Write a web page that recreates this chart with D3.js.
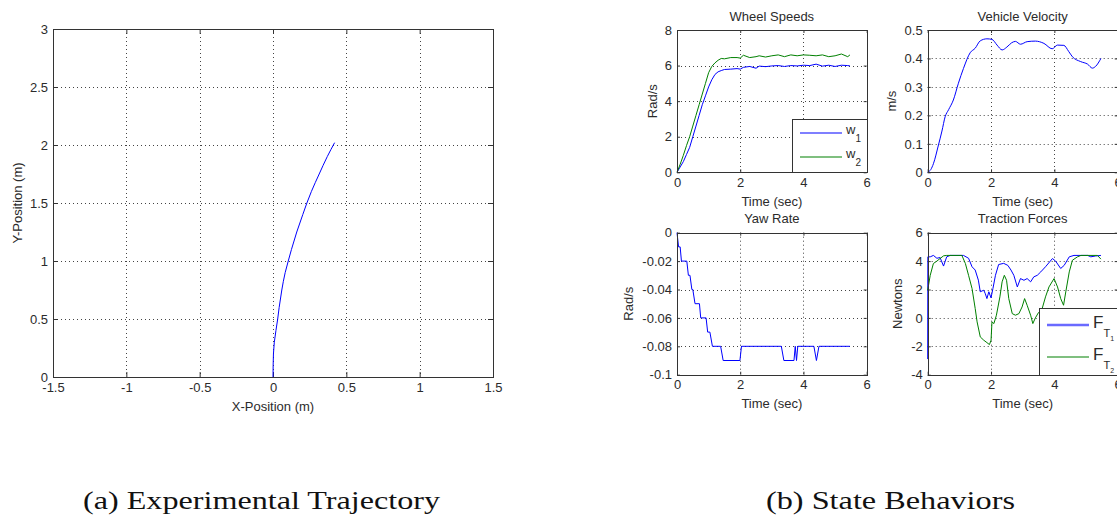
<!DOCTYPE html>
<html>
<head>
<meta charset="utf-8">
<script src="https://cdn.jsdelivr.net/npm/d3@7"></script>
<style>
  body { margin: 0; background: #fff; }
  svg { display: block; font-family: "Liberation Sans", Arial, sans-serif; }
</style>
</head>
<body>
<div id="chart"></div>
<script>
// ---- data ----
// (a) trajectory
const trajX = [0, 0.001, 0.003, 0.009, 0.02, 0.032, 0.042, 0.06, 0.083, 0.104, 0.126, 0.162, 0.203, 0.231, 0.262, 0.315, 0.37, 0.42];
const trajY = [0, 0.1, 0.2, 0.3, 0.4, 0.5, 0.6, 0.75, 0.9, 1.0, 1.1, 1.25, 1.4, 1.5, 1.6, 1.75, 1.9, 2.02];
const trajXTicks = [-1.5, -1, -0.5, 0, 0.5, 1, 1.5];
const trajYTicks = [0, 0.5, 1, 1.5, 2, 2.5, 3];

// wheel speeds
const wsTime = [0, 0.1, 0.2, 0.3, 0.4, 0.5, 0.6, 0.7, 0.8, 0.9, 1.0, 1.1, 1.2, 1.3, 1.4, 1.5, 1.7, 1.9, 2.0, 2.1, 2.3, 2.5, 2.6, 2.8, 3.0, 3.2, 3.4, 3.6, 3.8, 4.0, 4.2, 4.4, 4.6, 4.8, 5.0, 5.2, 5.4, 5.47];
const w1 = [0, 0.3, 0.6, 1.0, 1.4, 2.0, 2.6, 3.2, 3.8, 4.3, 4.8, 5.2, 5.5, 5.65, 5.72, 5.78, 5.8, 5.83, 5.8, 5.9, 5.95, 5.85, 5.97, 5.94, 5.98, 6.0, 5.95, 6.0, 5.98, 6.02, 6.0, 6.08, 5.97, 6.02, 5.95, 6.02, 6.0, 5.98];
const w2 = [0, 0.45, 0.95, 1.5, 2.0, 2.6, 3.2, 3.8, 4.4, 5.0, 5.6, 5.95, 6.15, 6.3, 6.4, 6.38, 6.45, 6.45, 6.42, 6.58, 6.45, 6.5, 6.55, 6.48, 6.55, 6.6, 6.5, 6.6, 6.55, 6.6, 6.58, 6.55, 6.6, 6.5, 6.55, 6.65, 6.5, 6.6];

// vehicle velocity
const vvTime = [0, 0.1, 0.18, 0.34, 0.45, 0.55, 0.66, 0.81, 0.97, 1.13, 1.34, 1.5, 1.66, 1.87, 2.03, 2.19, 2.35, 2.5, 2.65, 2.77, 2.93, 3.14, 3.4, 3.67, 3.93, 4.1, 4.3, 4.45, 4.57, 4.83, 5.05, 5.2, 5.3, 5.47];
const vv = [0, 0.01, 0.03, 0.096, 0.145, 0.195, 0.22, 0.254, 0.313, 0.365, 0.42, 0.436, 0.462, 0.469, 0.467, 0.447, 0.43, 0.44, 0.455, 0.46, 0.45, 0.459, 0.461, 0.453, 0.434, 0.447, 0.446, 0.425, 0.406, 0.389, 0.38, 0.366, 0.372, 0.40];

// yaw rate
const yawTime = [0, 0.05, 0.1, 0.14, 0.31, 0.36, 0.41, 0.47, 0.5, 0.57, 0.71, 0.75, 0.92, 0.97, 1.04, 1.12, 1.38, 1.46, 1.99, 2.04, 3.3, 3.38, 3.7, 3.74, 3.78, 3.82, 4.33, 4.41, 4.49, 5.47];
const yaw = [0, -0.01, -0.01, -0.02, -0.02, -0.03, -0.03, -0.04, -0.04, -0.05, -0.05, -0.06, -0.06, -0.07, -0.07, -0.08, -0.08, -0.09, -0.09, -0.08, -0.08, -0.09, -0.09, -0.08, -0.09, -0.08, -0.08, -0.09, -0.08, -0.08];

// traction forces
const f1Time = [0, 0.005, 0.02, 0.08, 0.18, 0.29, 0.39, 0.5, 0.6, 0.71, 1.13, 1.29, 1.4, 1.5, 1.6, 1.66, 1.77, 1.82, 1.87, 1.93, 2.0, 2.06, 2.14, 2.24, 2.4, 2.53, 2.63, 2.72, 2.83, 2.93, 3.04, 3.14, 3.25, 3.35, 3.46, 3.57, 3.72, 3.94, 4.04, 4.2, 4.31, 4.47, 4.62, 5.05, 5.15, 5.3, 5.47];
const f1 = [-2.9, 4.3, 4.3, 4.3, 4.4, 4.2, 4.25, 3.65, 4.3, 4.4, 4.4, 4.2, 3.6, 3.37, 2.66, 1.84, 1.95, 1.7, 1.36, 1.84, 1.41, 2.07, 3.0, 3.76, 3.84, 3.7, 3.37, 3.0, 2.18, 2.77, 2.65, 2.77, 2.54, 2.89, 3.0, 3.24, 3.6, 4.18, 4.0, 3.48, 3.7, 4.3, 4.4, 4.4, 4.3, 4.36, 4.4];
const f2Time = [0, 0.08, 0.18, 0.29, 0.39, 0.5, 0.6, 1.08, 1.19, 1.29, 1.4, 1.5, 1.56, 1.66, 1.77, 1.87, 1.95, 2.0, 2.03, 2.09, 2.17, 2.28, 2.35, 2.42, 2.49, 2.56, 2.67, 2.77, 2.88, 2.98, 3.06, 3.14, 3.25, 3.32, 3.4, 3.5, 3.6, 3.72, 3.83, 3.99, 4.1, 4.2, 4.29, 4.36, 4.47, 4.57, 4.73, 4.84, 5.36, 5.47];
const f2 = [1.95, 3.0, 3.83, 4.0, 4.18, 4.37, 4.4, 4.4, 3.83, 3.0, 2.07, 0.66, -0.28, -1.34, -1.57, -1.74, -1.88, -1.57, -0.28, -0.4, 0.19, 1.48, 2.54, 3.0, 2.65, 1.36, 0.3, 0.19, 0.3, 0.77, 1.36, 0.89, 0.19, -0.4, 0, 0.38, 0.54, 1.48, 2.18, 2.77, 2.18, 1.36, 0.89, 1.83, 3.24, 4.06, 4.3, 4.4, 4.4, 4.14];

const timeTicks = [0, 2, 4, 6];
const BLUE = "#0000ff", GREEN = "#008000";
const TXT = "#2b2b2b";

const svg = d3.select("#chart").append("svg")
  .attr("width", 1117).attr("height", 518);

// one MATLAB-style axes box
function drawPanel(o) {
  const x = d3.scaleLinear().domain(o.xDomain).range([o.left, o.right]);
  const y = d3.scaleLinear().domain(o.yDomain).range([o.bottom, o.top]);
  const g = svg.append("g");
  const fs = o.fontSize;

  // dotted grid
  const grid = g.append("g").attr("class", "grid");
  grid.append("g").selectAll("line").data(o.xTicks).join("line")
    .attr("x1", d => Math.round(x(d)) + 0.5).attr("x2", d => Math.round(x(d)) + 0.5)
    .attr("y1", o.top).attr("y2", o.bottom);
  grid.append("g").selectAll("line").data(o.yTicks).join("line")
    .attr("y1", d => Math.round(y(d)) + 0.5).attr("y2", d => Math.round(y(d)) + 0.5)
    .attr("x1", o.left).attr("x2", o.right);
  grid.selectAll("line").attr("stroke", "#444").attr("stroke-dasharray", "1,3");

  // inward ticks on all four sides
  const tl = o.tickLen;
  const ticks = [
    [d3.axisBottom(x).tickValues(o.xTicks), `translate(0,${o.bottom})`],
    [d3.axisTop(x).tickValues(o.xTicks), `translate(0,${o.top})`],
    [d3.axisLeft(y).tickValues(o.yTicks), `translate(${o.left},0)`],
    [d3.axisRight(y).tickValues(o.yTicks), `translate(${o.right},0)`]
  ];
  ticks.forEach(([ax, tr]) => {
    g.append("g").attr("transform", tr)
      .call(ax.tickSize(-tl).tickFormat(""))
      .call(s => s.select(".domain").remove())
      .selectAll("line").attr("stroke", "#333");
  });

  // tick labels
  g.append("g").attr("transform", `translate(0,${o.bottom})`)
    .call(d3.axisBottom(x).tickValues(o.xTicks).tickSize(0).tickPadding(o.xPad).tickFormat(d => String(d)))
    .call(s => s.select(".domain").remove())
    .selectAll("text").attr("font-size", fs).attr("fill", TXT)
    .attr("font-family", "Liberation Sans, Arial, sans-serif");
  g.append("g").attr("transform", `translate(${o.left},0)`)
    .call(d3.axisLeft(y).tickValues(o.yTicks).tickSize(0).tickPadding(5).tickFormat(d => String(d)))
    .call(s => s.select(".domain").remove())
    .selectAll("text").attr("font-size", fs).attr("fill", TXT)
    .attr("font-family", "Liberation Sans, Arial, sans-serif");

  // data lines
  const line = d3.line().x(d => x(d[0])).y(d => y(d[1])).curve(o.curve || d3.curveLinear);
  o.series.forEach(s => {
    g.append("path").datum(d3.zip(s.x, s.y))
      .attr("fill", "none").style("stroke", s.color).attr("stroke-width", 1)
      .attr("d", line);
  });

  // box
  g.append("rect")
    .attr("x", Math.round(o.left) + 0.5).attr("y", Math.round(o.top) + 0.5)
    .attr("width", Math.round(o.right) - Math.round(o.left))
    .attr("height", Math.round(o.bottom) - Math.round(o.top))
    .attr("fill", "none").attr("stroke", "#333");

  // labels
  const cx = (o.left + o.right) / 2, cy = (o.top + o.bottom) / 2;
  g.append("text").attr("x", cx).attr("y", o.bottom + 29).attr("dy", "0.35em")
    .attr("text-anchor", "middle").attr("font-size", fs).attr("fill", TXT).text(o.xLabel);
  g.append("text").attr("transform", `translate(${o.left - o.yLabelOff},${cy}) rotate(-90)`)
    .attr("dy", "0.35em").attr("text-anchor", "middle")
    .attr("font-size", fs).attr("fill", TXT).text(o.yLabel);
  if (o.title) {
    g.append("text").attr("x", cx).attr("y", o.top - 14).attr("dy", "0.35em")
      .attr("text-anchor", "middle").attr("font-size", fs).attr("fill", TXT).text(o.title);
  }

  // legend
  if (o.legend) {
    const L = o.legend;
    const lg = g.append("g").attr("class", "legend");
    lg.append("rect").attr("x", L.x + 0.5).attr("y", L.y + 0.5)
      .attr("width", L.w).attr("height", L.h)
      .attr("fill", "#fff").attr("stroke", "#333");
    L.items.forEach(it => {
      lg.append("path")
        .attr("d", `M${L.x + 8},${it.y}H${L.x + 50}`)
        .style("stroke", it.color).style("stroke-width", it.width || 1.2)
        .attr("fill", "none");
      const t = lg.append("text").attr("x", L.x + 54).attr("y", it.base)
        .attr("font-size", it.size).attr("fill", TXT);
      t.append("tspan").text(it.main);
      it.subs.forEach(sb => {
        t.append("tspan").attr("dy", sb.dy).attr("font-size", sb.size).text(sb.text);
      });
    });
  }
}

// (a) experimental trajectory
drawPanel({
  left: 53, right: 493, top: 29, bottom: 377,
  xDomain: [-1.5, 1.5], yDomain: [0, 3],
  xTicks: trajXTicks, yTicks: trajYTicks,
  fontSize: 13, tickLen: 5, xPad: 6, yLabelOff: 36,
  xLabel: "X-Position (m)", yLabel: "Y-Position (m)",
  series: [{ x: trajX, y: trajY, color: BLUE }],
  curve: d3.curveMonotoneY
});

// (b) state behaviours
drawPanel({
  left: 677, right: 866.7, top: 30, bottom: 172.3,
  xDomain: [0, 6], yDomain: [0, 8],
  xTicks: timeTicks, yTicks: [0, 2, 4, 6, 8],
  fontSize: 13, tickLen: 3, xPad: 5, yLabelOff: 25,
  title: "Wheel Speeds", xLabel: "Time (sec)", yLabel: "Rad/s",
  series: [{ x: wsTime, y: w1, color: BLUE }, { x: wsTime, y: w2, color: GREEN }],
  legend: {
    x: 792, y: 119, w: 75, h: 53,
    items: [
      { y: 133, base: 134, color: BLUE, main: "w", size: 13, subs: [{ text: "1", dy: 8, size: 10 }] },
      { y: 157, base: 158, color: GREEN, main: "w", size: 13, subs: [{ text: "2", dy: 8, size: 10 }] }
    ]
  }
});

drawPanel({
  left: 927.7, right: 1117.7, top: 30, bottom: 172.3,
  xDomain: [0, 6], yDomain: [0, 0.5],
  xTicks: timeTicks, yTicks: [0, 0.1, 0.2, 0.3, 0.4, 0.5],
  fontSize: 13, tickLen: 3, xPad: 5, yLabelOff: 36,
  title: "Vehicle Velocity", xLabel: "Time (sec)", yLabel: "m/s",
  series: [{ x: vvTime, y: vv, color: BLUE }],
  curve: d3.curveMonotoneX
});

drawPanel({
  left: 677, right: 866.7, top: 232.7, bottom: 374.7,
  xDomain: [0, 6], yDomain: [-0.1, 0],
  xTicks: timeTicks, yTicks: [-0.1, -0.08, -0.06, -0.04, -0.02, 0],
  fontSize: 13, tickLen: 3, xPad: 5, yLabelOff: 49,
  title: "Yaw Rate", xLabel: "Time (sec)", yLabel: "Rad/s",
  series: [{ x: yawTime, y: yaw, color: BLUE }]
});

drawPanel({
  left: 927.7, right: 1117.7, top: 232.7, bottom: 374.7,
  xDomain: [0, 6], yDomain: [-4, 6],
  xTicks: timeTicks, yTicks: [-4, -2, 0, 2, 4, 6],
  fontSize: 13, tickLen: 3, xPad: 5, yLabelOff: 30,
  title: "Traction Forces", xLabel: "Time (sec)", yLabel: "Newtons",
  series: [{ x: f1Time, y: f1, color: BLUE }, { x: f2Time, y: f2, color: GREEN }],
  legend: {
    x: 1039, y: 308, w: 90, h: 67,
    items: [
      { y: 325, base: 328, color: "#6a6aff", width: 2.5, main: "F", size: 17,
        subs: [{ text: "T", dy: 9, size: 11 }, { text: "1", dy: 4, size: 7 }] },
      { y: 357, base: 359.5, color: GREEN, main: "F", size: 17,
        subs: [{ text: "T", dy: 9, size: 11 }, { text: "2", dy: 4, size: 7 }] }
    ]
  }
});

// sub-figure captions
const captions = [
  { text: "(a) Experimental Trajectory", x: 83, len: 357 },
  { text: "(b) State Behaviors", x: 766, len: 249 }
];
svg.selectAll("text.caption").data(captions).join("text")
  .attr("class", "caption")
  .attr("x", d => d.x).attr("y", 509)
  .attr("textLength", d => d.len).attr("lengthAdjust", "spacingAndGlyphs")
  .attr("font-family", "Liberation Serif, 'DejaVu Serif', serif")
  .attr("font-size", 25).attr("fill", "#111")
  .text(d => d.text);
</script>
</body>
</html>
